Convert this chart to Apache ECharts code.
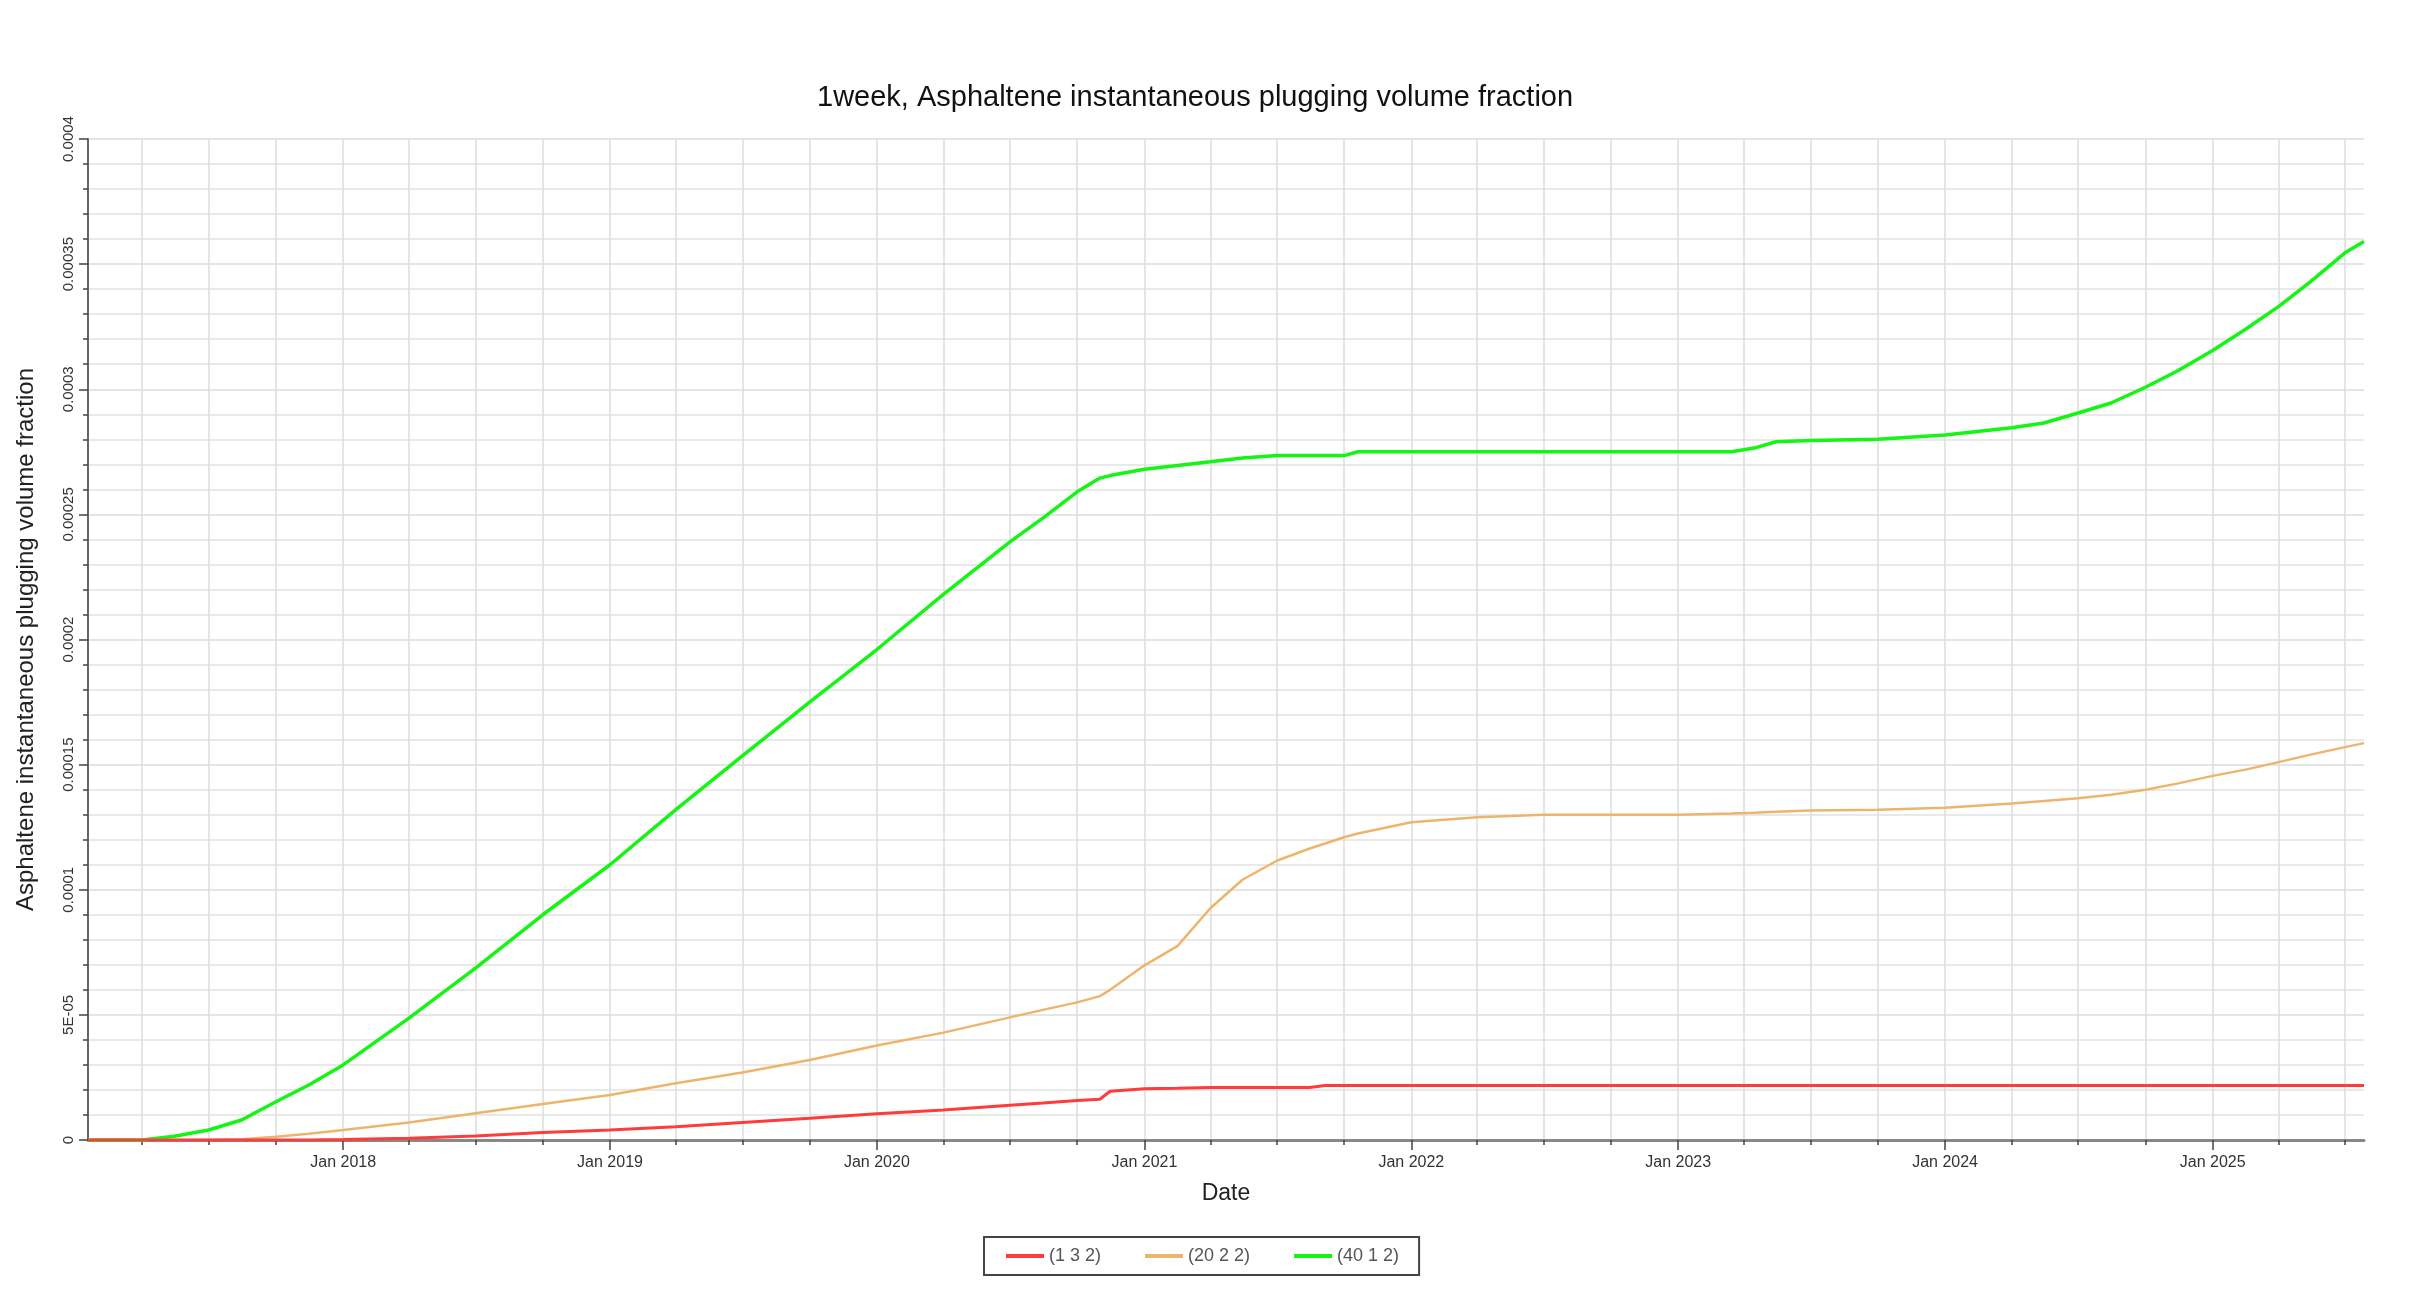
<!DOCTYPE html>
<html>
<head>
<meta charset="utf-8">
<title>1week, Asphaltene instantaneous plugging volume fraction</title>
<script src="https://cdn.jsdelivr.net/npm/echarts@6/dist/echarts.min.js"></script>
<style>
  html, body { margin: 0; padding: 0; background: #fff; }
  #chart { width: 2418px; height: 1314px; }
</style>
</head>
<body>
<div id="chart"></div>
<script>
// series values below are in units of 1e-5
const SCALE = 1e-5

const dates = [
  '2017-01-17', '2017-04-01', '2017-05-15', '2017-07-01', '2017-08-15', '2017-10-01', '2017-11-15',
  '2018-01-01', '2018-04-01', '2018-07-01', '2018-10-01',
  '2019-01-01', '2019-04-01', '2019-07-01', '2019-10-01',
  '2020-01-01', '2020-04-01', '2020-07-01', '2020-08-15', '2020-10-01', '2020-11-01', '2020-11-15',
  '2021-01-01', '2021-02-15', '2021-04-01', '2021-05-15', '2021-07-01', '2021-08-15', '2021-09-05',
  '2021-10-01', '2021-10-20',
  '2022-01-01', '2022-04-01', '2022-07-01', '2022-10-01',
  '2023-01-01', '2023-03-15', '2023-04-15', '2023-05-15', '2023-07-01', '2023-10-01',
  '2024-01-01', '2024-04-01', '2024-05-15', '2024-07-01', '2024-08-15', '2024-10-01', '2024-11-15',
  '2025-01-01', '2025-02-15', '2025-04-01', '2025-05-15', '2025-07-01', '2025-07-27'
]

const red132 = [
  0, 0, 0, 0, 0, 0, 0,
  0.02, 0.07, 0.16, 0.3,
  0.4, 0.53, 0.7, 0.87,
  1.05, 1.2, 1.39, 1.48, 1.58, 1.63, 1.95,
  2.05, 2.07, 2.1, 2.1, 2.1, 2.1, 2.18,
  2.18, 2.18,
  2.18, 2.18, 2.18, 2.18,
  2.18, 2.18, 2.18, 2.18, 2.18, 2.18,
  2.18, 2.18, 2.18, 2.18, 2.18, 2.18, 2.18,
  2.18, 2.18, 2.18, 2.18, 2.18, 2.18
]

const tan2022 = [
  0, 0, 0, 0, 0.03, 0.13, 0.25,
  0.4, 0.7, 1.07, 1.44,
  1.8, 2.27, 2.7, 3.2,
  3.78, 4.29, 4.9, 5.2, 5.5, 5.75, 6.0,
  6.98, 7.75, 9.26, 10.4, 11.16, 11.65, 11.85,
  12.1, 12.25,
  12.7, 12.9, 13.0, 13.0,
  13.0, 13.05, 13.08, 13.12, 13.17, 13.2,
  13.28, 13.45, 13.55, 13.66, 13.8, 14.0, 14.25,
  14.55, 14.8, 15.1, 15.4, 15.7, 15.86
]

const green4012 = [
  0, 0, 0.15, 0.4, 0.8, 1.53, 2.2,
  3.0, 4.87, 6.87, 9.0,
  11.0, 13.2, 15.35, 17.5,
  19.6, 21.8, 23.9, 24.85, 25.9, 26.45, 26.55,
  26.8, 26.95, 27.1, 27.25, 27.35, 27.35, 27.35,
  27.35, 27.5,
  27.5, 27.5, 27.5, 27.5,
  27.5, 27.5, 27.65, 27.9, 27.95, 28.0,
  28.17, 28.46, 28.65, 29.05, 29.45, 30.08, 30.75,
  31.55, 32.4, 33.3, 34.3, 35.45, 35.9
]

const seriesNames = ['(1 3 2)', '(20 2 2)', '(40 1 2)']
const seriesColors = ['#ff3b3b', '#efb46c', '#14f514']

const years = [2017, 2018, 2019, 2020, 2021, 2022, 2023, 2024, 2025]
const yearLabels = ['Jan 2018', 'Jan 2019', 'Jan 2020', 'Jan 2021', 'Jan 2022', 'Jan 2023', 'Jan 2024', 'Jan 2025']
const yTickLabels = ['0', '5E-05', '0.0001', '0.00015', '0.0002', '0.00025', '0.0003', '0.00035', '0.0004']

const xMin = '2017-01-17'
const xMax = '2025-07-27'

// dates -> UTC milliseconds, the x axis is a plain value axis in ms
function ts(d) {
  return Date.parse(d + 'T00:00:00Z')
}

const yearTicks = years.slice(1).map(y => ts(y + '-01-01'))
const quarterTicks = []
years.forEach(y => {
  ['01', '04', '07', '10'].forEach(m => {
    const t = ts(y + '-' + m + '-01')
    if (t > ts(xMin) && t < ts(xMax)) quarterTicks.push(t)
  })
})

function toPairs(values) {
  return dates.map((d, i) => [ts(d), values[i] * SCALE])
}

const labelFont = "'Liberation Sans', Arial, sans-serif"
const textFont = "'Liberation Sans', Arial, sans-serif"

const chart = echarts.init(document.getElementById('chart'))

chart.setOption({
  backgroundColor: '#ffffff',
  animation: false,
  title: {
    text: '1week, Asphaltene instantaneous plugging volume fraction',
    left: 812,
    top: 78,
    textStyle: { fontFamily: textFont, fontSize: 29, fontWeight: 'normal', color: '#111' }
  },
  grid: { left: 88, right: 54, top: 139, bottom: 174 },
  legend: {
    data: seriesNames,
    left: 984,
    top: 1237,
    icon: 'rect',
    itemWidth: 38,
    itemHeight: 4,
    itemGap: 44,
    padding: [10, 20, 10, 22],
    borderColor: '#444',
    borderWidth: 2,
    textStyle: { fontFamily: textFont, fontSize: 18, color: '#555' }
  },
  xAxis: [
    {
      // quarterly ticks + grid
      type: 'value',
      position: 'bottom',
      min: ts(xMin),
      max: ts(xMax),
      name: 'Date',
      nameLocation: 'middle',
      nameGap: 42,
      nameTextStyle: { fontFamily: textFont, fontSize: 23, color: '#222' },
      axisLine: { show: true, onZero: false, lineStyle: { color: '#888', width: 3 } },
      axisTick: { show: true, length: 5, customValues: quarterTicks, lineStyle: { color: '#444', width: 1.5 } },
      axisLabel: { show: false },
      splitLine: { show: true, lineStyle: { color: '#dcdcdc', width: 1.5 } }
    },
    {
      // yearly ticks + labels
      type: 'value',
      position: 'bottom',
      min: ts(xMin),
      max: ts(xMax),
      axisLine: { show: false, onZero: false },
      axisTick: { show: true, length: 10, customValues: yearTicks, lineStyle: { color: '#444', width: 1.5 } },
      axisLabel: {
        show: true,
        customValues: yearTicks,
        margin: 15,
        fontFamily: labelFont,
        fontSize: 16,
        color: '#333',
        formatter: value => yearLabels[new Date(value).getUTCFullYear() - 2018]
      },
      splitLine: { show: false }
    }
  ],
  yAxis: {
    type: 'value',
    min: 0,
    max: 0.0004,
    interval: 0.00005,
    name: 'Asphaltene instantaneous plugging volume fraction',
    nameLocation: 'middle',
    nameGap: 50,
    nameTextStyle: { fontFamily: textFont, fontSize: 24, color: '#222' },
    axisLine: { show: true, lineStyle: { color: '#666', width: 2 } },
    axisTick: { show: true, length: 9, lineStyle: { color: '#444', width: 1.5 } },
    minorTick: { show: true, splitNumber: 5, length: 5, lineStyle: { color: '#444', width: 1.5 } },
    minorSplitLine: { show: true, lineStyle: { color: '#e2e2e2', width: 1.5 } },
    splitLine: { show: true, lineStyle: { color: '#dcdcdc', width: 1.5 } },
    axisLabel: {
      rotate: 90,
      margin: 12,
      fontFamily: labelFont,
      fontSize: 15,
      color: '#333',
      formatter: value => yTickLabels[Math.round(value / 0.00005)]
    }
  },
  series: [
    {
      name: seriesNames[0],
      type: 'line',
      z: 4,
      showSymbol: false,
      data: toPairs(red132),
      lineStyle: { color: seriesColors[0], width: 3 },
      itemStyle: { color: seriesColors[0] }
    },
    {
      name: seriesNames[1],
      type: 'line',
      z: 3,
      showSymbol: false,
      data: toPairs(tan2022),
      lineStyle: { color: seriesColors[1], width: 2.5 },
      itemStyle: { color: seriesColors[1] }
    },
    {
      name: seriesNames[2],
      type: 'line',
      z: 2,
      showSymbol: false,
      data: toPairs(green4012),
      lineStyle: { color: seriesColors[2], width: 3.5 },
      itemStyle: { color: seriesColors[2] }
    }
  ]
})

window.onresize = () => {
  chart.resize()
}
</script>
</body>
</html>
